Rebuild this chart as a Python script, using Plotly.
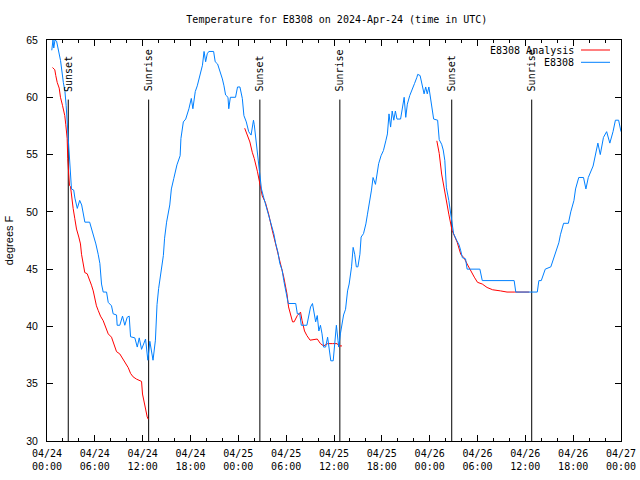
import pandas as pd
import plotly.graph_objects as go

BASE = pd.Timestamp("2024-04-24 00:00")

# Observed station temperature (hours after 04/24 00:00 UTC, degrees F)
OBS_HOURS = [0.6, 0.75, 0.85, 1.0, 1.2, 1.35, 1.55, 1.7, 2.05, 2.25, 2.4, 2.55, 2.68, 2.8, 2.95,
             3.07, 3.35, 3.5, 3.8, 4.1, 4.35, 4.55, 4.75, 5.35, 5.6, 5.8, 6.13, 6.42, 6.63, 6.84,
             7.05, 7.47, 7.68, 8.09, 8.3, 8.72, 8.8, 9.13, 9.47, 9.76, 10.06, 10.31, 10.48, 11.02,
             11.32, 11.57, 11.86, 12.36, 12.65, 12.9, 13.3, 13.6, 13.8, 14.0, 14.3, 14.6, 14.75,
             15.0, 15.4, 15.6, 15.9, 16.1, 16.3, 16.7, 16.8, 17.1, 17.4, 17.8, 18.1, 18.3, 18.6,
             18.85, 19.2, 19.5, 19.7, 19.9, 20.1, 20.3, 20.9, 21.1, 21.4, 21.8, 22.0, 22.2, 22.4,
             22.7, 22.8, 23.0, 23.65, 23.9, 24.2, 24.5, 24.7, 25.0, 25.3, 25.6, 25.9, 26.0, 26.2,
             26.4, 26.6, 26.9, 27.2, 27.6, 28.0, 28.45, 28.7, 28.96, 29.2, 29.5, 29.7, 30.05,
             30.26, 31.2, 31.4, 31.7, 31.9, 32.6, 32.85, 33.06, 33.3, 33.5, 33.7, 33.9, 34.1, 34.3,
             34.5, 34.7, 34.95, 35.2, 35.4, 35.6, 35.9, 36.1, 36.3, 36.5, 36.6, 36.8, 37.0, 37.2,
             37.45, 37.7, 37.9, 38.2, 38.4, 38.6, 38.8, 39.0, 39.25, 39.4, 39.7, 40.0, 40.2, 40.5,
             40.7, 40.9, 41.2, 41.4, 41.6, 41.9, 42.2, 42.5, 42.7, 42.9, 43.1, 43.3, 43.5, 43.7,
             43.9, 44.35, 44.6, 44.8, 45.0, 45.2, 45.5, 45.8, 46.1, 46.4, 46.5, 46.8, 47.1, 47.3,
             47.5, 47.7, 47.9, 48.1, 48.3, 48.5, 49.0, 49.2, 49.5, 49.7, 49.9, 50.1, 50.4, 50.6,
             50.8, 51.0, 51.4, 51.7, 51.9, 52.1, 52.5, 52.7, 54.3, 54.6, 58.6, 58.8, 61.5, 61.7,
             62.0, 62.5, 63.2, 63.8, 64.2, 64.4, 64.8, 65.4, 65.7, 66.1, 66.3, 66.7, 67.3, 67.6,
             67.9, 68.5, 68.8, 69.1, 69.4, 69.8, 70.2, 70.6, 71.0, 71.3, 71.7, 72.0]
OBS_TEMPS = [64.1, 65.0, 64.3, 65.0, 64.9, 64.3, 63.8, 63.2, 61.3, 60.5, 59.3, 57.6, 55.8, 54.1, 52.9,
             52.0, 51.9, 51.2, 50.3, 51.0, 50.6, 49.7, 49.1, 49.1, 48.5, 48.1, 47.2, 46.3, 45.5, 43.7,
             43.0, 43.0, 42.1, 41.8, 41.1, 41.0, 40.1, 40.1, 40.9, 40.1, 40.8, 40.9, 39.1, 39.0,
             38.2, 39.0, 38.0, 38.9, 37.05, 38.7, 37.05, 38.8, 41.9, 43.3, 44.8, 46.2, 47.7,
             49.1, 50.6, 52.0, 52.9, 53.5, 54.1, 54.9, 56.4, 57.85, 58.1, 59.0, 59.9, 59.0, 60.5,
             61.0, 61.9, 62.8, 64.0, 63.1, 63.8, 64.0, 64.0, 63.1, 62.9, 62.1, 61.6, 61.0, 60.2,
             60.0, 59.0, 60.0, 60.0, 60.9, 60.9, 59.9, 58.4, 57.85, 57.0, 56.7, 58.0, 57.6, 56.4,
             54.9, 53.5, 52.0, 51.2, 50.2, 49.0, 48.1, 47.2, 46.5, 45.5, 44.9, 44.0, 42.85,
             42.0, 42.0, 41.1, 41.1, 40.1, 40.1, 41.1, 41.7, 42.0, 41.1, 40.4, 40.95, 39.6, 40.1,
             39.35, 38.2, 38.2, 39.06, 38.2, 37.0, 37.0, 38.8, 40.1, 38.8, 38.2, 39.35, 40.2, 41.0,
             41.5, 43.1, 43.7, 45.2, 46.9, 46.3, 45.2, 45.2, 46.3, 47.8, 48.1, 48.95, 49.8, 51.0,
             51.9, 53.0, 52.4, 53.3, 54.2, 54.9, 55.35, 56.2, 56.8, 58.55, 57.4, 58.8, 58.0, 58.8,
             58.1, 58.1, 59.4, 60.0, 58.25, 59.4, 60.15, 60.6, 61.2, 61.75, 62.0, 61.9, 60.9, 60.3,
             60.9, 60.3, 60.9, 60.0, 58.8, 58.1, 58.0, 56.3, 55.9, 55.4, 54.5, 52.1, 51.0, 50.1,
             49.0, 48.1, 47.5, 47.1, 46.6, 46.0, 45.9, 45.0, 45.0, 44.0, 44.0, 43.0, 43.0, 44.0,
             44.0, 45.0, 45.2, 46.5, 47.3, 48.0, 49.0, 49.0, 50.0, 51.0, 52.0, 53.0, 53.0, 52.0,
             53.0, 54.0, 55.0, 56.0, 55.0, 56.5, 57.0, 56.0, 57.0, 58.0, 58.0, 57.0]

# Analysis (three overnight segments)
ANA1_HOURS = [0.69, 0.98, 1.1, 1.28, 1.53, 1.69, 1.94, 2.23, 2.36, 2.53, 2.6, 2.7, 2.82, 2.95, 3.07,
              3.28, 3.49, 3.7, 3.99, 4.2, 4.33, 4.54, 4.74, 5.04, 5.3, 5.58, 5.8, 6.0, 6.2, 6.42,
              6.71, 7.05, 7.38, 7.68, 8.09, 8.38, 8.72, 9.13, 9.47, 9.76, 10.19, 10.48, 10.8, 11.23,
              11.86, 11.98, 12.15, 12.4, 12.57, 12.7]
ANA1_TEMPS = [62.6, 62.4, 61.9, 61.3, 60.8, 60.0, 59.3, 58.4, 57.6, 56.4, 54.65, 53.8, 52.3, 52.2, 51.4,
              50.3, 49.4, 48.5, 47.8, 47.2, 46.3, 45.5, 44.7, 44.6, 44.15, 43.6, 43.1, 42.3, 41.8, 41.4,
              40.9, 40.5, 39.9, 39.35, 39.06, 38.5, 37.8, 37.6, 37.2, 36.9, 36.4, 35.9, 35.6, 35.4,
              35.2, 34.1, 33.5, 32.7, 32.1, 31.9]
ANA2_HOURS = [24.8, 25.1, 25.45, 25.75, 26.0, 26.4, 26.7, 27.0, 27.4, 27.8, 28.25, 28.8, 29.3, 29.7,
              30.1, 30.3, 30.8, 31.0, 31.4, 31.8, 32.0, 32.3, 32.6, 33.0, 33.9, 34.3, 34.7, 35.2,
              35.8, 36.4, 36.6, 37.0]
ANA2_TEMPS = [57.3, 56.8, 56.1, 55.2, 54.65, 53.5, 52.3, 51.4, 50.8, 49.8, 48.4, 46.9, 45.5, 44.3,
              42.85, 41.7, 40.4, 40.4, 40.95, 41.25, 40.5, 39.6, 39.2, 38.8, 38.9, 38.5, 38.3, 38.5,
              38.5, 38.5, 38.3, 38.3]
ANA3_HOURS = [48.9, 49.2, 49.5, 49.8, 50.1, 50.4, 50.8, 51.0, 51.45, 51.9, 52.3, 52.7, 53.1, 53.6,
              54.0, 54.6, 55.2, 55.9, 56.9, 57.7, 58.6, 59.5, 60.5]
ANA3_TEMPS = [56.2, 55.1, 53.3, 52.0, 51.0, 49.8, 48.4, 48.1, 47.35, 46.3, 46.0, 45.45, 44.9, 44.3,
              43.85, 43.7, 43.4, 43.2, 43.1, 43.0, 43.0, 43.0, 43.0]

SUN_TIMES = ["2024-04-24 02:40", "2024-04-24 12:45", "2024-04-25 02:42",
             "2024-04-25 12:44", "2024-04-26 02:46", "2024-04-26 12:48"]
SUN_LABELS = ["Sunset", "Sunrise", "Sunset", "Sunrise", "Sunset", "Sunrise"]
SUN_LINE_TOP = 59.8
SUN_LABEL_Y = 60.4

X_TICK_HOURS = list(range(0, 73, 6))
X_TICK_TEXT = ["04/24<br>00:00", "04/24<br>06:00", "04/24<br>12:00", "04/24<br>18:00",
               "04/25<br>00:00", "04/25<br>06:00", "04/25<br>12:00", "04/25<br>18:00",
               "04/26<br>00:00", "04/26<br>06:00", "04/26<br>12:00", "04/26<br>18:00",
               "04/27<br>00:00"]
Y_TICKS = [30, 35, 40, 45, 50, 55, 60, 65]

RED = "#ff0000"
BLUE = "#0080ff"
MONO = "DejaVu Sans Mono"
SANS = "Liberation Sans"


def to_time(hours):
    return [BASE + pd.Timedelta(hours=h) for h in hours]


ana_x = to_time(ANA1_HOURS) + [None] + to_time(ANA2_HOURS) + [None] + to_time(ANA3_HOURS)
ana_y = ANA1_TEMPS + [None] + ANA2_TEMPS + [None] + ANA3_TEMPS

sun_x, sun_y = [], []
for t in SUN_TIMES:
    sun_x += [pd.Timestamp(t), pd.Timestamp(t), None]
    sun_y += [30, SUN_LINE_TOP, None]

fig = go.Figure()
fig.add_trace(go.Scatter(x=sun_x, y=sun_y, mode="lines", line=dict(color="black", width=1),
                         hoverinfo="skip", showlegend=False))
fig.add_trace(go.Scatter(x=ana_x, y=ana_y, mode="lines", name="E8308 Analysis",
                         line=dict(color=RED, width=1), showlegend=False))
fig.add_trace(go.Scatter(x=to_time(OBS_HOURS), y=OBS_TEMPS, mode="lines", name="E8308",
                         line=dict(color=BLUE, width=1), showlegend=False))

for t, lab in zip(SUN_TIMES, SUN_LABELS):
    fig.add_annotation(x=pd.Timestamp(t), y=SUN_LABEL_Y, text=lab, textangle=-90,
                       showarrow=False, xanchor="center", yanchor="bottom", borderpad=0,
                       font=dict(family=MONO, size=10, color="black"))

# manual legend (gnuplot style: text right, sample line to the right)
plot_l, plot_w, plot_t, plot_h = 47, 574, 40, 401
def px(xp):
    return (xp - plot_l) / plot_w
def py(yp):
    return (plot_t + plot_h - yp) / plot_h

for (name, col, ypx) in [("E8308 Analysis", RED, 50), ("E8308", BLUE, 62.3)]:
    fig.add_annotation(xref="paper", yref="paper", x=px(575), y=py(ypx), text=name,
                       showarrow=False, xanchor="right", yanchor="middle", borderpad=0,
                       font=dict(family=MONO, size=10, color="black"))
    fig.add_shape(type="line", xref="paper", yref="paper", x0=px(581), x1=px(610),
                  y0=py(ypx), y1=py(ypx), line=dict(color=col, width=1))

fig.update_layout(
    width=640, height=480,
    margin=dict(l=plot_l, r=640 - plot_l - plot_w, t=plot_t, b=480 - plot_t - plot_h,
                autoexpand=False),
    paper_bgcolor="white", plot_bgcolor="white",
    title=dict(text="Temperature for E8308 on 2024-Apr-24 (time in UTC)",
               x=0.505, xref="paper", xanchor="center", y=1 - 19 / 480, yref="container",
               yanchor="middle", automargin=False,
               font=dict(family=MONO, size=10, color="black")),
    showlegend=False,
)
fig.update_xaxes(
    type="date", range=[BASE, BASE + pd.Timedelta(hours=72)], automargin=False,
    tickvals=to_time(X_TICK_HOURS), ticktext=X_TICK_TEXT,
    ticks="inside", ticklen=6, tickwidth=1, tickcolor="black",
    minor=dict(dtick=2 * 3600 * 1000, ticks="inside", ticklen=3, tickcolor="black", showgrid=False),
    showline=True, linecolor="black", linewidth=1, mirror="ticks",
    showgrid=False, zeroline=False, ticklabelstandoff=3,
    tickfont=dict(family=MONO, size=10, color="black"),
)
fig.update_yaxes(
    range=[30, 65], tickvals=Y_TICKS, automargin=False,
    ticks="inside", ticklen=6, tickwidth=1, tickcolor="black",
    showline=True, linecolor="black", linewidth=1, mirror="ticks",
    showgrid=False, zeroline=False, ticklabelstandoff=6,
    tickfont=dict(family=SANS, size=10.5, color="black"),
    title=dict(text="degrees F", font=dict(family=SANS, size=11, color="black"), standoff=10),
)

fig.write_html("out.html", config={"displayModeBar": False},
               post_script="document.body.style.margin='0px';document.body.style.padding='0px';")
